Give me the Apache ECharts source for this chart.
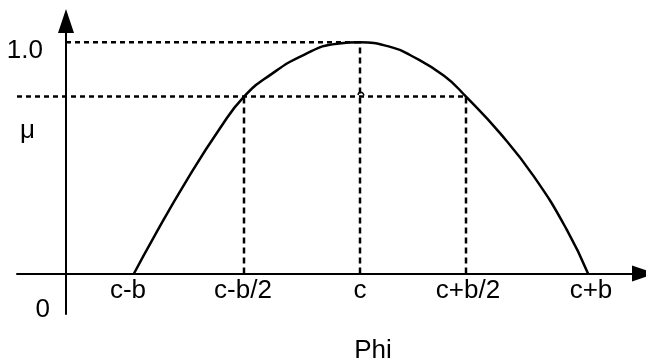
<!DOCTYPE html>
<html>
<head>
<meta charset="utf-8">
<script src="https://cdn.jsdelivr.net/npm/echarts@6/dist/echarts.min.js"></script>
<style>
html,body{margin:0;padding:0;background:#fff;}
#chart{width:646px;height:363px;}
</style>
</head>
<body>
<div id="chart"></div>
<script>
// Membership curve (Phi in arbitrary units, origin at the mu axis)
const curvePhi = [68, 88, 121, 154, 178, 204, 238, 271, 294, 326, 344, 378, 400, 434, 468, 501, 522];
const curveMu  = [0, 0.159, 0.405, 0.628, 0.765, 0.858, 0.946, 0.994, 1.0, 0.978, 0.945, 0.855, 0.765, 0.607, 0.419, 0.188, 0];

// Tick labels on the Phi axis
const tickLabels = ['c-b', 'c-b/2', 'c', 'c+b/2', 'c+b'];
const tickPhi    = [62, 177, 294, 402, 525];

// Guide positions
const phiCminusHalf = 178;
const phiC = 294;
const phiCplusHalf = 400;
const levelMu = 0.765;
const peakMu = 1.0;
const phiStart = -49;

// small hop of the dashed level line over the c guide
const hopPhi = [292, 294, 296, 298];
const hopMu  = [0.772, 0.784, 0.783, 0.770];

const FONT = "'Liberation Sans', Arial, sans-serif";
const FS = 26;
const black = '#000';

const chart = echarts.init(document.getElementById('chart'), null, {renderer: 'canvas'});

function seg(pts, dash) {
  return {
    type: 'line', data: pts, symbol: 'none', silent: true,
    lineStyle: {color: black, width: 2.5, type: dash},
    z: 1
  };
}

const series = [
  {
    type: 'line',
    data: curvePhi.map((p, i) => [p, curveMu[i]]),
    smooth: 0.5, symbol: 'none',
    lineStyle: {color: black, width: 2.5},
    z: 3
  },
  seg([[phiStart, levelMu], [phiCplusHalf, levelMu]], [5, 4]),
  seg([[0, peakMu], [phiC, peakMu]], [5, 4]),
  seg([[phiCminusHalf, 0], [phiCminusHalf, levelMu]], [6, 4]),
  seg([[phiCplusHalf, 0], [phiCplusHalf, levelMu]], [6, 4]),
  seg([[phiC, 0], [phiC, peakMu]], [6, 4]),
  {
    type: 'line', data: hopPhi.map((p, i) => [p, hopMu[i]]), symbol: 'none', smooth: true,
    lineStyle: {color: black, width: 1.5}, z: 2
  }
];

chart.setOption({
  animation: false,
  backgroundColor: '#fff',
  grid: {left: 17, right: 2, top: 21, bottom: 49, containLabel: false, outerBoundsMode: 'none'},
  xAxis: {
    type: 'value', min: phiStart, max: 578,
    name: 'Phi', nameLocation: 'middle', nameGap: 24, nameMoveOverlap: false,
    nameTextStyle: {color: black, fontFamily: FONT, fontSize: FS, padding: [0, 0, 0, 85]},
    axisLine: {show: true, onZero: true, symbol: ['none', 'triangle'], symbolSize: [16, 24],
      lineStyle: {color: black, width: 2}},
    axisTick: {show: false},
    splitLine: {show: false},
    axisLabel: {
      show: true, customValues: tickPhi, margin: -36,
      color: black, fontFamily: FONT, fontSize: FS,
      formatter: function (v) { const i = tickPhi.indexOf(v); return i >= 0 ? tickLabels[i] : ''; }
    }
  },
  yAxis: {
    type: 'value', min: -0.175, max: 1.092,
    name: '{m|μ}', nameLocation: 'middle', nameGap: -18, nameRotate: 0, nameMoveOverlap: false,
    nameTextStyle: {
      color: black, fontFamily: FONT, fontSize: FS,
      rich: {m: {color: black, fontFamily: FONT, fontSize: FS, padding: [0, 0, 74, 0]}}
    },
    axisLine: {show: true, onZero: true, symbol: ['none', 'triangle'], symbolSize: [16, 24],
      lineStyle: {color: black, width: 2}},
    axisTick: {show: false},
    splitLine: {show: false},
    axisLabel: {
      show: true, customValues: [peakMu, 0], margin: -33,
      color: black, fontFamily: FONT, fontSize: FS,
      formatter: function (v) { return v === 0 ? '{z|0}' : '{o|1.0}'; },
      rich: {
        o: {color: black, fontFamily: FONT, fontSize: FS, padding: [18, 7, 0, 0]},
        z: {color: black, fontFamily: FONT, fontSize: FS, padding: [72, 0, 0, 0]}
      }
    }
  },
  series: series
});
</script>
</body>
</html>
